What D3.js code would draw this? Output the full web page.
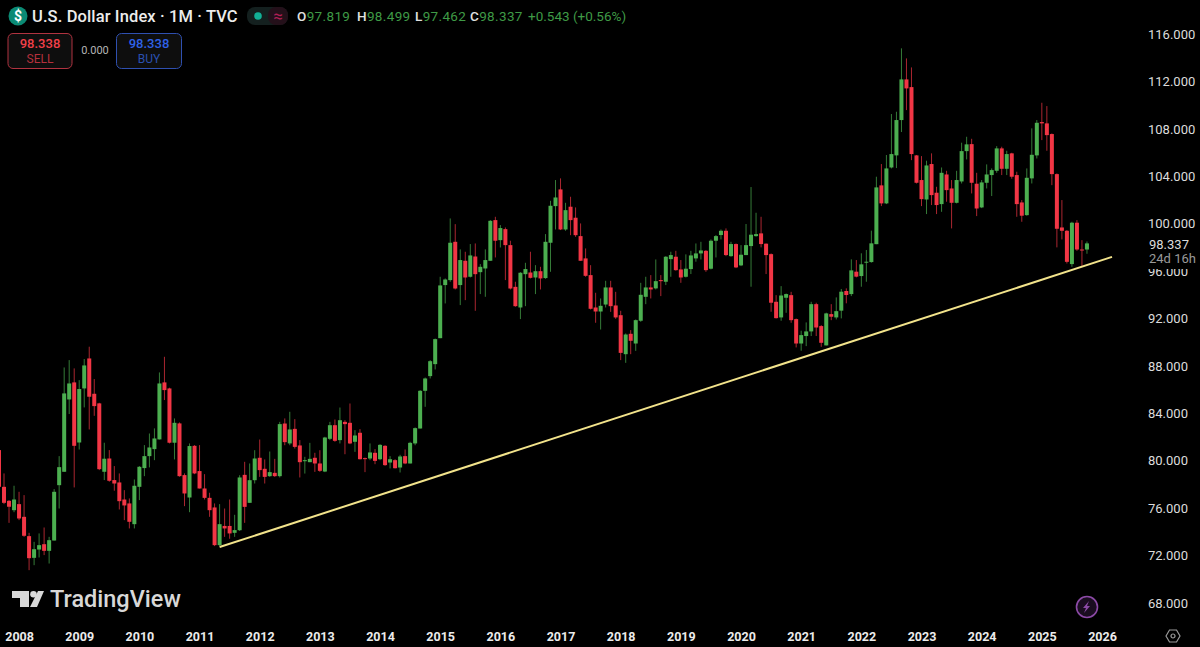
<!DOCTYPE html>
<html>
<head>
<meta charset="utf-8">
<style>
  html, body { margin: 0; padding: 0; background: #000; overflow: hidden; }
  svg { display: block; }
  text { font-family: Roboto, "Open Sans", sans-serif; }
</style>
<script src="https://cdn.jsdelivr.net/npm/d3@7"></script>
</head>
<body>
<div id="chart"></div>
<script>
// monthly DXY candles, Sep 2007 to Oct 2025
const firstMonth = new Date(Date.UTC(2007, 8, 1));

const opens = [
  80.90, 77.80, 76.62, 75.83,
  76.34, 75.27, 73.64, 71.81, 72.51, 72.96, 72.40, 73.27, 77.94, 79.07, 85.17, 86.61,
  81.54, 86.10, 88.63, 85.65, 84.84, 79.07, 80.19, 78.37, 78.17, 76.73, 76.40, 74.65,
  77.80, 79.38, 80.39, 80.98, 81.80, 86.61, 86.10, 81.52, 83.15, 78.79, 76.90, 81.26,
  79.13, 77.66, 76.87, 76.06, 72.88, 74.50, 74.50, 73.92, 74.14, 78.81, 76.45, 78.36,
  80.25, 79.32, 78.70, 78.98, 78.70, 83.14, 81.46, 82.69, 81.29, 79.96, 79.88, 80.25,
  79.77, 79.09, 81.85, 83.00, 81.74, 83.28, 83.20, 81.60, 82.36, 80.22, 80.19, 80.67,
  80.13, 81.26, 79.85, 80.05, 79.43, 80.39, 79.77, 81.46, 82.72, 85.90, 87.14, 88.15,
  90.34, 94.82, 95.24, 98.47, 94.82, 96.87, 95.52, 97.23, 95.91, 96.22, 96.87, 100.30,
  98.61, 99.54, 98.19, 94.67, 92.93, 95.74, 95.88, 95.46, 95.99, 95.41, 98.39, 101.48,
  102.89, 99.51, 101.43, 100.50, 98.95, 97.07, 95.66, 92.93, 92.59, 93.18, 94.62, 93.10,
  92.28, 88.99, 90.71, 89.89, 91.81, 93.83, 94.62, 94.54, 95.24, 95.10, 97.01, 97.21,
  96.14, 95.52, 96.17, 97.07, 97.49, 97.71, 96.20, 98.56, 99.04, 99.40, 97.26, 98.28,
  96.48, 97.35, 98.11, 98.95, 99.18, 98.31, 97.43, 93.41, 92.09, 93.75, 93.97, 91.95,
  89.89, 90.52, 90.91, 93.21, 91.36, 89.73, 92.37, 92.09, 92.66, 94.32, 94.06, 95.95,
  95.58, 96.71, 96.76, 98.27, 103.23, 101.71, 104.74, 105.76, 108.74, 112.17, 111.52, 105.76,
  103.68, 102.04, 105.03, 102.61, 101.65, 104.15, 102.97, 101.76, 103.56, 106.12, 106.71, 103.37,
  101.37, 103.45, 104.10, 104.46, 106.35, 104.63, 105.93, 104.10, 101.79, 100.72, 103.82, 105.76,
  108.57, 108.46, 107.56, 104.18, 99.68, 99.40, 96.59, 100.08, 97.82, 97.819
];

const highs = [
  81.00, 78.93, 76.68, 77.89,
  77.38, 77.10, 73.92, 73.16, 73.87, 74.37, 73.58, 77.61, 80.39, 87.87, 88.49, 87.79,
  86.80, 88.58, 89.62, 86.89, 84.89, 81.52, 80.90, 79.55, 78.93, 77.52, 76.82, 78.42,
  79.55, 81.32, 82.30, 82.73, 87.45, 88.77, 86.16, 83.57, 83.23, 78.93, 81.46, 81.32,
  81.32, 78.87, 77.30, 76.40, 76.34, 75.97, 76.73, 75.44, 78.78, 79.91, 79.77, 80.89,
  81.79, 80.11, 80.78, 80.16, 83.28, 83.57, 84.13, 83.51, 81.74, 80.33, 81.51, 80.67,
  80.89, 82.02, 83.28, 83.48, 84.49, 83.42, 84.83, 82.58, 82.67, 80.27, 81.46, 80.98,
  81.40, 81.31, 80.39, 80.13, 80.50, 80.95, 81.60, 82.81, 85.96, 87.02, 88.49, 90.31,
  95.52, 95.38, 100.44, 99.96, 97.83, 97.63, 98.28, 98.33, 96.59, 97.83, 100.30, 100.58,
  99.88, 99.68, 98.56, 95.10, 95.91, 96.70, 97.63, 96.50, 96.36, 99.12, 101.93, 103.68,
  103.82, 101.76, 102.27, 101.37, 100.02, 97.91, 96.50, 94.17, 93.69, 95.18, 95.18, 94.25,
  92.65, 90.74, 91.02, 91.92, 95.01, 95.52, 95.66, 96.98, 95.66, 97.26, 97.63, 97.71,
  96.93, 97.41, 97.71, 98.33, 98.47, 97.77, 98.67, 99.04, 99.51, 99.60, 98.47, 98.33,
  98.19, 99.97, 103.09, 100.92, 100.58, 98.33, 97.49, 93.97, 94.73, 94.11, 94.25, 92.00,
  90.97, 91.67, 93.41, 93.33, 91.44, 92.49, 93.21, 93.78, 94.49, 94.54, 96.99, 96.93,
  97.50, 97.78, 99.41, 103.96, 105.03, 105.79, 109.25, 109.44, 114.79, 113.94, 113.18, 105.79,
  105.70, 105.31, 105.93, 103.11, 104.74, 104.46, 103.68, 104.46, 106.83, 107.33, 107.16, 104.29,
  103.68, 105.00, 104.66, 106.54, 106.49, 106.15, 105.98, 104.38, 101.99, 104.66, 108.04, 108.74,
  110.20, 109.92, 107.61, 104.24, 101.99, 99.46, 100.16, 100.30, 98.61, 98.499
];

const lows = [
  77.66, 76.34, 74.76, 75.66,
  74.99, 73.58, 70.77, 71.19, 71.84, 72.04, 71.33, 73.27, 75.97, 79.07, 83.94, 77.75,
  80.95, 84.50, 82.64, 83.79, 79.21, 78.37, 78.23, 77.47, 75.89, 74.99, 74.29, 74.29,
  76.68, 78.70, 79.44, 80.05, 81.80, 85.12, 81.46, 80.11, 78.65, 76.17, 75.66, 78.87,
  77.66, 76.73, 75.27, 72.80, 72.80, 73.58, 73.42, 73.58, 74.08, 74.76, 76.45, 78.08,
  78.64, 78.08, 78.64, 78.64, 78.59, 81.31, 81.31, 81.03, 78.59, 78.92, 79.88, 79.06,
  79.06, 79.04, 81.74, 81.60, 81.46, 80.55, 81.40, 80.75, 80.11, 79.04, 80.05, 79.71,
  80.05, 79.57, 79.35, 79.35, 79.01, 79.71, 79.77, 81.31, 82.72, 84.55, 86.94, 87.70,
  90.34, 93.27, 95.10, 94.45, 93.13, 93.55, 95.46, 92.65, 94.06, 93.83, 96.87, 97.15,
  97.99, 95.24, 94.45, 92.99, 91.95, 93.04, 95.38, 94.06, 94.45, 95.35, 95.94, 99.51,
  99.46, 99.40, 99.03, 98.89, 96.87, 95.52, 92.76, 91.64, 91.07, 92.93, 92.56, 91.97,
  88.49, 88.26, 88.99, 89.27, 91.72, 93.21, 93.69, 94.45, 93.89, 94.82, 95.52, 96.03,
  95.01, 95.46, 95.75, 96.79, 96.98, 95.94, 96.14, 97.15, 98.67, 97.26, 97.21, 96.25,
  96.42, 97.35, 94.68, 98.90, 98.00, 95.75, 92.57, 92.00, 91.81, 92.48, 91.64, 89.56,
  89.28, 89.67, 90.52, 90.52, 89.61, 89.73, 91.86, 91.92, 92.01, 93.28, 93.89, 95.47,
  94.68, 95.10, 96.71, 98.27, 101.48, 101.65, 104.66, 104.69, 107.73, 109.58, 105.36, 103.39,
  101.48, 100.81, 101.57, 100.81, 101.00, 101.85, 99.60, 101.71, 103.39, 105.42, 102.55, 100.64,
  101.31, 102.97, 102.33, 104.29, 104.10, 104.10, 103.79, 100.58, 100.16, 100.67, 103.39, 105.50,
  107.05, 106.15, 103.25, 98.00, 98.67, 96.64, 96.36, 97.71, 96.36, 97.462
];

const closes = [
  77.80, 76.45, 76.12, 76.73,
  75.13, 73.67, 71.78, 72.54, 72.88, 72.40, 73.30, 77.38, 79.46, 85.68, 86.52, 81.26,
  86.05, 88.04, 85.40, 84.61, 79.29, 80.17, 78.31, 78.08, 76.59, 76.23, 74.85, 77.89,
  79.49, 80.39, 81.12, 81.88, 86.52, 85.96, 81.52, 83.20, 78.70, 77.24, 81.24, 78.93,
  77.66, 76.87, 75.83, 72.88, 74.65, 74.29, 73.87, 74.15, 78.59, 76.11, 78.36, 80.19,
  79.21, 78.64, 79.04, 78.70, 83.09, 81.57, 82.64, 81.17, 79.88, 80.05, 80.16, 79.77,
  79.15, 81.96, 83.00, 81.68, 83.42, 83.09, 81.46, 82.13, 80.13, 80.16, 80.70, 79.99,
  81.34, 79.63, 80.13, 79.37, 80.36, 79.77, 81.51, 82.75, 85.90, 86.94, 88.40, 90.26,
  94.79, 95.29, 98.39, 94.53, 96.93, 95.46, 97.32, 95.74, 96.36, 96.93, 100.24, 98.56,
  99.63, 98.19, 94.53, 93.04, 95.86, 96.17, 95.43, 95.99, 95.38, 98.47, 101.51, 102.21,
  99.51, 101.14, 100.30, 99.03, 96.87, 95.60, 92.82, 92.59, 93.07, 94.62, 93.04, 92.09,
  89.10, 90.65, 90.12, 91.86, 94.00, 94.62, 94.45, 95.15, 95.15, 97.21, 97.35, 96.08,
  95.46, 96.20, 97.32, 97.49, 97.74, 96.08, 98.56, 98.95, 99.40, 97.35, 98.28, 96.31,
  97.38, 98.19, 99.07, 99.12, 98.28, 97.35, 93.33, 92.03, 93.94, 94.06, 91.86, 89.89,
  90.60, 90.91, 93.21, 91.24, 89.95, 92.43, 92.15, 92.62, 94.26, 93.98, 96.06, 95.53,
  96.57, 96.79, 98.34, 103.06, 101.71, 104.66, 105.87, 108.74, 112.17, 111.41, 105.87, 103.45,
  102.07, 104.91, 102.41, 101.57, 104.29, 102.83, 101.76, 103.68, 106.12, 106.69, 103.45, 101.28,
  103.48, 104.15, 104.52, 106.35, 104.63, 105.87, 103.96, 101.65, 100.67, 103.87, 105.81, 108.51,
  108.46, 107.47, 104.18, 99.57, 99.40, 96.78, 100.08, 97.82, 97.77, 98.337
];

const priceTicks = [116, 112, 108, 104, 100, 96, 92, 88, 84, 80, 76, 72, 68];
const yearTicks = [2008, 2009, 2010, 2011, 2012, 2013, 2014, 2015, 2016, 2017, 2018, 2019, 2020, 2021, 2022, 2023, 2024, 2025, 2026];

// trendline anchors: [year, month (0 based), price]
const trendAnchors = [
  [2011, 4, 72.72],
  [2026, 2, 97.2],
];

const width = 1200;
const height = 647;
const upColor = "#4caf50";
const downColor = "#f23645";

const monthIndex = (year, month) =>
  (year - firstMonth.getUTCFullYear()) * 12 + month - firstMonth.getUTCMonth();

const candles = closes.map((close, i) => ({
  i,
  open: opens[i],
  high: highs[i],
  low: lows[i],
  close,
}));

const x = d3
  .scaleLinear()
  .domain([0, monthIndex(2026, 0)])
  .range([-1, 1102]);

const y = d3.scaleLinear().domain([68, 116]).range([603, 34]);

const svg = d3
  .select("#chart")
  .append("svg")
  .attr("width", width)
  .attr("height", height)
  .style("background", "#000");

// candles
const candle = svg
  .append("g")
  .selectAll("g")
  .data(candles)
  .enter()
  .append("g")
  .attr("fill", (d) => (d.close >= d.open ? upColor : downColor))
  .attr("stroke", (d) => (d.close >= d.open ? upColor : downColor));

candle
  .append("line")
  .attr("x1", (d) => x(d.i))
  .attr("x2", (d) => x(d.i))
  .attr("y1", (d) => y(d.high))
  .attr("y2", (d) => y(d.low))
  .attr("stroke-width", 1)
  .attr("stroke-opacity", 0.7);

candle
  .append("rect")
  .attr("x", (d) => x(d.i) - 2)
  .attr("width", 4)
  .attr("y", (d) => y(Math.max(d.open, d.close)))
  .attr("height", (d) => Math.max(1, Math.abs(y(d.open) - y(d.close))))
  .attr("stroke", "none");

// trendline
svg
  .append("line")
  .attr("x1", x(monthIndex(trendAnchors[0][0], trendAnchors[0][1])))
  .attr("y1", y(trendAnchors[0][2]))
  .attr("x2", x(monthIndex(trendAnchors[1][0], trendAnchors[1][1])))
  .attr("y2", y(trendAnchors[1][2]))
  .attr("stroke", "#f2e38b")
  .attr("stroke-width", 2);

// price axis
const priceAxis = svg
  .append("g")
  .attr("transform", "translate(1146,0)")
  .call(
    d3
      .axisRight(y)
      .tickValues(priceTicks)
      .tickSize(0)
      .tickPadding(2)
      .tickFormat((d) => d.toFixed(3))
  );
priceAxis.select(".domain").remove();
priceAxis
  .selectAll("text")
  .attr("fill", "#dcdcdc")
  .style("font-size", "13px")
  .style("font-family", "Roboto, sans-serif");

// time axis
const timeAxis = svg
  .append("g")
  .attr("transform", "translate(0,630)")
  .call(
    d3
      .axisBottom(x)
      .tickValues(yearTicks.map((year) => monthIndex(year, 0)))
      .tickSize(0)
      .tickPadding(2)
      .tickFormat((d, i) => yearTicks[i])
  );
timeAxis.select(".domain").remove();
timeAxis
  .selectAll("text")
  .attr("fill", "#ececec")
  .style("font-size", "12.5px")
  .style("font-weight", "700")
  .style("font-family", "Roboto, sans-serif");

// last price tag and countdown, sits over the 96 label
svg.append("rect").attr("x", 1145).attr("y", 236).attr("width", 55).attr("height", 33).attr("fill", "#000");
svg.append("text").attr("x", 1149).attr("y", 248.5).attr("fill", "#dcdcdc").style("font-size", "13px").text(closes[closes.length - 1].toFixed(3));
svg.append("text").attr("x", 1149).attr("y", 262.5).attr("fill", "#9a9a9a").style("font-size", "13px").text("24d 16h");

// header
const header = svg.append("g");
header.append("circle").attr("cx", 18).attr("cy", 16).attr("r", 9.5).attr("fill", "#0b8a74");
header.append("text").attr("x", 18).attr("y", 21).attr("text-anchor", "middle").attr("fill", "#fff").style("font-size", "14px").style("font-weight", "700").text("$");
header.append("text").attr("x", 32).attr("y", 22).attr("fill", "#ececec").style("font-size", "16.5px").style("font-weight", "500").style("letter-spacing", "0.12px").text("U.S. Dollar Index · 1M · TVC");

header.append("rect").attr("x", 247).attr("y", 7).attr("width", 41).attr("height", 18).attr("rx", 8).attr("fill", "#14201f");
header.append("rect").attr("x", 268).attr("y", 7).attr("width", 20).attr("height", 18).attr("rx", 8).attr("fill", "#24101a");
header.append("circle").attr("cx", 258).attr("cy", 16).attr("r", 3.8).attr("fill", "#12b096");
header.append("text").attr("x", 278).attr("y", 21.5).attr("text-anchor", "middle").attr("fill", "#b01f55").style("font-size", "17px").text("≈");

const ohlcItems = [
  { label: "O", value: "97.819", at: 297 },
  { label: "H", value: "98.499", at: 357 },
  { label: "L", value: "97.462", at: 415 },
  { label: "C", value: "98.337", at: 470 },
];
ohlcItems.forEach((item) => {
  const t = header
    .append("text")
    .attr("x", item.at)
    .attr("y", 21)
    .style("font-size", "13.5px")
    .style("letter-spacing", "0.35px");
  t.append("tspan").attr("fill", "#e0e0e0").style("font-weight", "500").text(item.label);
  t.append("tspan").attr("fill", "#3f9a46").text(item.value);
});
header
  .append("text")
  .attr("x", 528)
  .attr("y", 21)
  .attr("fill", "#3f9a46")
  .style("font-size", "13.5px")
  .text("+0.543 (+0.56%)");

// sell / buy buttons
const tradeButton = (bx, w, stroke, priceColor, labelColor, label) => {
  header.append("rect").attr("x", bx).attr("y", 33.5).attr("width", w).attr("height", 35).attr("rx", 5).attr("fill", "#0e0e0e").attr("stroke", stroke);
  header.append("text").attr("x", bx + w / 2).attr("y", 47.5).attr("text-anchor", "middle").attr("fill", priceColor).style("font-size", "13px").style("font-weight", "500").text("98.338");
  header.append("text").attr("x", bx + w / 2).attr("y", 62.5).attr("text-anchor", "middle").attr("fill", labelColor).style("font-size", "12px").text(label);
};
tradeButton(8, 64, "#b03340", "#f2404a", "#b5303c", "SELL");
tradeButton(116.5, 65, "#2f50b0", "#2f62e8", "#2a50b0", "BUY");
header.append("text").attr("x", 95).attr("y", 54).attr("text-anchor", "middle").attr("fill", "#b4b4b4").style("font-size", "11px").text("0.000");

// TradingView mark
const logo = svg.append("g").attr("fill", "#d8d8d8");
logo.append("path").attr("d", "M12 591h17v16h-9v-9h-8z");
logo.append("circle").attr("cx", 33.5).attr("cy", 594.3).attr("r", 3.3);
logo.append("path").attr("d", "M38 591h6l-7 16h-7z");
logo.append("text").attr("x", 50).attr("y", 607).style("font-size", "23.5px").style("font-weight", "500").text("TradingView");

// bolt and settings icons
const bolt = svg.append("g").attr("transform", "translate(1087,607)");
bolt.append("circle").attr("r", 10.5).attr("fill", "#1a0d20").attr("stroke", "#8c4aa6").attr("stroke-width", 1.6);
bolt.append("path").attr("d", "M2 -6L-4 1h3l-2 5l6 -7h-3z").attr("fill", "#8c4aa6");
const gear = svg.append("g").attr("transform", "translate(1173,636)").attr("fill", "none").attr("stroke", "#9a9a9a").attr("stroke-width", 1.2);
gear.append("path").attr("d", "M-7 0L-3.5 -6H3.5L7 0L3.5 6H-3.5z");
gear.append("circle").attr("r", 2);
</script>
</body>
</html>
